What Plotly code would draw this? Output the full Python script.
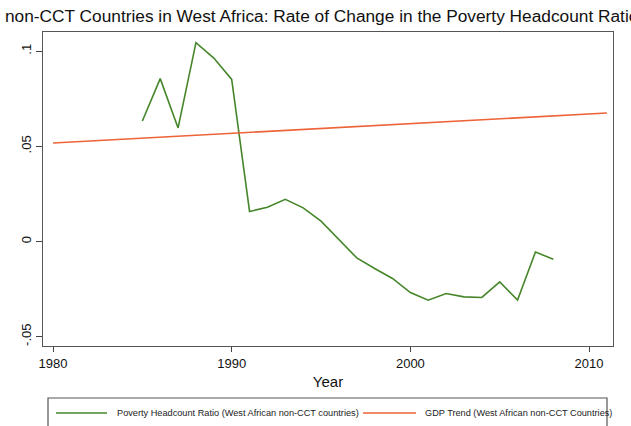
import plotly.graph_objects as go

# Poverty headcount ratio, rate of change (West African non-CCT countries)
years = list(range(1985, 2009))
poverty_rate = [0.0633, 0.0856, 0.0597, 0.1045, 0.0964, 0.0852, 0.0158, 0.0180,
                0.0222, 0.0177, 0.0107, 0.0010, -0.0086, -0.0142, -0.0194, -0.0268,
                -0.0308, -0.0273, -0.0291, -0.0294, -0.0212, -0.0308, -0.0055, -0.0093]

# Linear GDP trend endpoints
trend_years = [1980, 2011]
gdp_trend = [0.0518, 0.0675]

x_ticks = [1980, 1990, 2000, 2010]
y_ticks = [-0.05, 0, 0.05, 0.1]
y_tick_text = ["-.05", "0", ".05", ".1"]

legend_labels = ["Poverty Headcount Ratio (West African non-CCT countries)",
                 "GDP Trend (West African non-CCT Countries)"]

GREEN = "#46862a"
ORANGE = "#ee6338"
FONT = "Liberation Sans, Arial, Helvetica, sans-serif"

W, H = 631, 426
L, R, T, B = 43, 18, 32, 80
pw, ph = W - L - R, H - T - B


def px(x):
    return (x - L) / pw


def py(y):
    return (H - B - y) / ph


fig = go.Figure()
fig.add_trace(go.Scatter(x=years, y=poverty_rate, mode="lines",
                         line=dict(color=GREEN, width=1.6),
                         name=legend_labels[0], showlegend=False))
fig.add_trace(go.Scatter(x=trend_years, y=gdp_trend, mode="lines",
                         line=dict(color=ORANGE, width=1.6),
                         name=legend_labels[1], showlegend=False))

# legend frame and entries
fig.add_shape(type="rect", xref="paper", yref="paper",
              x0=px(48), x1=px(607), y0=py(440), y1=py(398),
              line=dict(color="#555555", width=1.2), fillcolor="white", layer="above")
for (x0, x1), color, label, tx in [((56, 107), GREEN, legend_labels[0], 115),
                                   ((363, 416), ORANGE, legend_labels[1], 423)]:
    fig.add_shape(type="line", xref="paper", yref="paper",
                  x0=px(x0), x1=px(x1), y0=py(413), y1=py(413),
                  line=dict(color=color, width=1.6), layer="above")
    fig.add_annotation(xref="paper", yref="paper", x=px(tx), y=py(413),
                       text=label, showarrow=False, xanchor="left", yanchor="middle",
                       font=dict(family=FONT, size=9.2, color="#222222"))

fig.update_layout(
    width=W, height=H,
    margin=dict(l=L, r=R, t=T, b=B),
    paper_bgcolor="white", plot_bgcolor="white",
    font=dict(family=FONT, color="#111111"),
    title=dict(text="non-CCT Countries in West Africa: Rate of Change in the Poverty Headcount Ratio",
               x=5 / W, xanchor="left", xref="container",
               y=1 - 16 / H, yanchor="middle", yref="container",
               font=dict(family=FONT, size=17.3, color="#111111")),
    xaxis=dict(range=[1979.44, 2011.34], tickvals=x_ticks, ticks="outside", ticklen=5,
               tickcolor="#444444", showline=True, linecolor="#555555", linewidth=1.3,
               mirror=True, showgrid=False, zeroline=False,
               tickfont=dict(family=FONT, size=13, color="#111111"),
               title=dict(text="Year", font=dict(family=FONT, size=15), standoff=6)),
    yaxis=dict(range=[-0.0549, 0.1101], tickvals=y_ticks, ticktext=y_tick_text,
               ticks="outside", ticklen=6, tickcolor="#444444", tickangle=-90,
               showline=True, linecolor="#555555", linewidth=1.3, mirror=True,
               showgrid=False, zeroline=False,
               tickfont=dict(family=FONT, size=13, color="#111111")),
)

fig.write_html("out.html")
